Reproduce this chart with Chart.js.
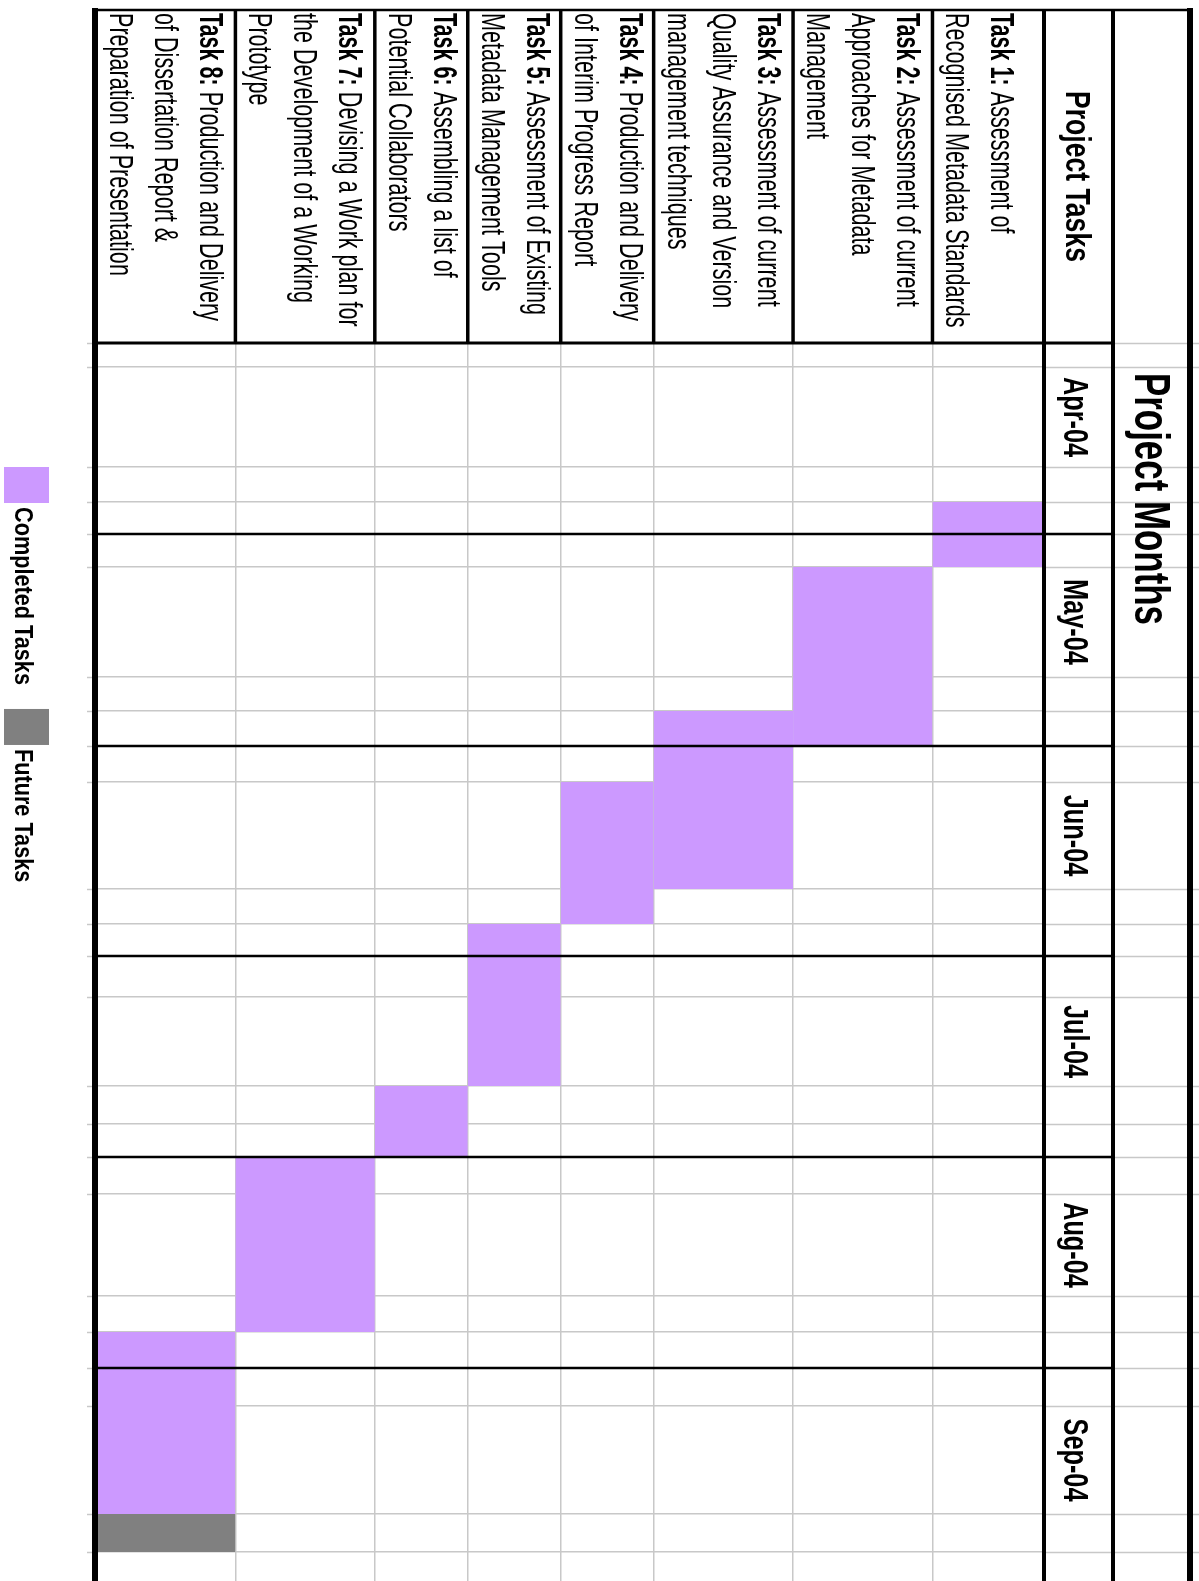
<!DOCTYPE html>
<html>
<head>
<meta charset="utf-8">
<script src="https://cdn.jsdelivr.net/npm/chart.js@4.4.1/dist/chart.umd.min.js"></script>
<style>
html,body{margin:0;padding:0;background:#ffffff;overflow:hidden}
canvas{display:block}
</style>
</head>
<body>
<canvas id="gantt" width="1199" height="1581"></canvas>
<script>
// ---------------- DATA ----------------
const taskTitles = ['Task 1:', 'Task 2:', 'Task 3:', 'Task 4:', 'Task 5:', 'Task 6:', 'Task 7:', 'Task 8:'];
const taskLines = [
  ['Assessment of', 'Recognised Metadata Standards'],
  ['Assessment of current', 'Approaches for Metadata', 'Management'],
  ['Assessment of current', 'Quality Assurance and Version', 'management techniques'],
  ['Production and Delivery', 'of Interim Progress Report'],
  ['Assessment of Existing', 'Metadata Management Tools'],
  ['Assembling a list of', 'Potential Collaborators'],
  ['Devising a Work plan for', 'the Development of a Working', 'Prototype'],
  ['Production and Delivery', 'of Dissertation Report &', 'Preparation of Presentation']
];
const monthLabels = ['Apr-04', 'May-04', 'Jun-04', 'Jul-04', 'Aug-04', 'Sep-04'];
// timeline tick values (four sub-periods per month, as in the source sheet)
const weekEdges = [0, 2.4, 12.4, 15.9, 19.1, 22.4, 33.4, 36.8, 40.3, 43.9, 54.6, 58.1,
                   61.3, 65.4, 74.3, 78.1, 81.4, 85.1, 95.3, 98.9, 102.5, 106.3, 117.1, 120.9];
const timelineEnd = 123.8;
const completedStart = [15.9, 22.4, 36.8, 43.9, 58.1, 74.3, 81.4, 98.9];
const completedEnd   = [22.4, 40.3, 54.6, 58.1, 74.3, 81.4, 98.9, 117.1];
const futureStart    = [null, null, null, null, null, null, null, 117.1];
const futureEnd      = [null, null, null, null, null, null, null, 120.9];
const seriesNames = ['Completed Tasks', 'Future Tasks'];
const headerTasks = 'Project Tasks';
const headerMonths = 'Project Months';

// ---------------- LAYOUT / STYLE ----------------
const COLUMN_UNITS = [12, 15, 15, 10, 10, 10, 15, 15]; // sheet column widths, Task 1 .. Task 8
const COLORS = ['#CC99FF', '#808080'];
const GRID = '#C8C8C8';
const FONT = '"Liberation Sans", Arial, sans-serif';

const colEdges = [0];
COLUMN_UNITS.forEach(w => colEdges.push(colEdges[colEdges.length - 1] + w));
const totalUnits = colEdges[colEdges.length - 1];

const datasets = [];
function addSeries(starts, ends, sIdx) {
  starts.forEach((s, i) => {
    if (s === null || ends[i] === null) return;
    datasets.push({
      label: seriesNames[sIdx],
      data: [{x: colEdges[i], y: s}, {x: colEdges[i + 1], y: s}],
      showLine: true,
      fill: {value: ends[i]},
      backgroundColor: COLORS[sIdx],
      borderColor: 'rgba(0,0,0,0)',
      borderWidth: 0,
      pointRadius: 0,
      tension: 0
    });
  });
}
addSeries(completedStart, completedEnd, 0);
addSeries(futureStart, futureEnd, 1);

function rotText(ctx, parts, x, y, perp, align) {
  ctx.save();
  ctx.translate(x, y);
  ctx.rotate(Math.PI / 2);
  ctx.scale(1, perp);
  ctx.textBaseline = 'alphabetic';
  ctx.textAlign = 'left';
  let total = 0;
  parts.forEach(p => { ctx.font = (p.bold ? 'bold ' : '') + p.size + 'px ' + FONT; total += ctx.measureText(p.t).width; });
  let off = align === 'center' ? -total / 2 : 0;
  parts.forEach(p => {
    ctx.font = (p.bold ? 'bold ' : '') + p.size + 'px ' + FONT;
    ctx.fillStyle = '#000';
    ctx.fillText(p.t, off, 0);
    off += ctx.measureText(p.t).width;
  });
  ctx.restore();
}

function line(ctx, x1, y1, x2, y2, w, c) {
  ctx.beginPath(); ctx.moveTo(x1, y1); ctx.lineTo(x2, y2);
  ctx.lineWidth = w; ctx.strokeStyle = c; ctx.stroke();
}

const tablePlugin = {
  id: 'tablePlugin',
  afterDatasetsDraw(chart) {
    const ctx = chart.ctx, xs = chart.scales.x, ys = chart.scales.y, a = chart.chartArea;
    const L = a.left, R = a.right, T = a.top, B = a.bottom;
    const headTop = 10, labRight = R + 69, pmRight = R + 146;
    ctx.save();
    // gray extensions of the timeline grid into the label columns and left stubs
    weekEdges.forEach(v => {
      const y = Math.round(ys.getPixelForValue(v)) + 0.5;
      line(ctx, R, y, 1199, y, 1.5, GRID);
      line(ctx, L - 9, y, L, y, 1.5, GRID);
    });
    // month separators
    for (let m = 1; m < monthLabels.length; m++) {
      const y = ys.getPixelForValue(weekEdges[m * 4]);
      line(ctx, L, y, labRight, y, 2.5, '#000');
    }
    // header bottom
    line(ctx, L, T, labRight, T, 3, '#000');
    // header column separators
    colEdges.slice(1, -1).forEach(v => {
      const x = xs.getPixelForValue(v);
      line(ctx, x, headTop, x, T, 3.5, '#000');
    });
    line(ctx, R, headTop, R, B, 4, '#000');
    line(ctx, labRight, headTop, labRight, B, 4, '#000');
    line(ctx, L - 3, headTop, pmRight, headTop, 2.5, '#000');
    ctx.fillStyle = '#000';
    ctx.fillRect(L - 4, headTop - 2, 6, B - headTop + 2);
    ctx.fillRect(pmRight - 3, headTop - 2, 6, B - headTop + 2);

    // task texts (bottom aligned in sheet => hug left edge after rotation)
    taskLines.forEach((lines, i) => {
      const xl = Math.min(xs.getPixelForValue(colEdges[i]), xs.getPixelForValue(colEdges[i + 1]));
      const n = lines.length;
      lines.forEach((t, k) => {
        const bx = xl + 14 + (n - 1 - k) * 45;
        const parts = k === 0 ? [{t: taskTitles[i], bold: true, size: 21.6}, {t: ' ' + t, bold: false, size: 21.6}]
                              : [{t: t, bold: false, size: 21.6}];
        rotText(ctx, parts, bx, headTop + 3, 1.5, 'left');
      });
    });
    // header 'Project Tasks'
    rotText(ctx, [{t: headerTasks, bold: true, size: 26.6}], R + 22, (headTop + T) / 2, 1.3, 'center');
    // month labels, centred in the second sub-period of each month
    monthLabels.forEach((lab, m) => {
      const yc = (ys.getPixelForValue(weekEdges[m * 4 + 1]) + ys.getPixelForValue(weekEdges[m * 4 + 2])) / 2;
      rotText(ctx, [{t: lab, bold: true, size: 25.3}], R + 20, yc, 1.35, 'center');
    });
    // 'Project Months'
    rotText(ctx, [{t: headerMonths, bold: true, size: 34.9}], labRight + 22, T + 30, 1.45, 'left');

    // legend (rotated)
    let ly = 467;
    seriesNames.forEach((name, s) => {
      ctx.fillStyle = COLORS[s];
      ctx.fillRect(4, ly, 45, 36);
      rotText(ctx, [{t: name, bold: true, size: 21.7}], 15, ly + 40, 1.2, 'left');
      ctx.font = 'bold 21.7px ' + FONT;
      ly += 40 + ctx.measureText(name).width + 24;
    });
    ctx.restore();
  }
};

new Chart(document.getElementById('gantt'), {
  type: 'scatter',
  data: {datasets},
  options: {
    responsive: false,
    animation: false,
    events: [],
    layout: {padding: {left: 96, right: 155, top: 343, bottom: 0}},
    plugins: {legend: {display: false}, tooltip: {enabled: false}},
    scales: {
      x: {
        type: 'linear', min: 0, max: totalUnits, reverse: true,
        afterBuildTicks: s => { s.ticks = colEdges.map(v => ({value: v})); },
        afterFit: s => { s.height = 0; },
        ticks: {display: false},
        border: {display: false},
        grid: {color: GRID, lineWidth: 1.5, drawTicks: false}
      },
      y: {
        type: 'linear', min: 0, max: timelineEnd, reverse: true,
        afterBuildTicks: s => { s.ticks = weekEdges.map(v => ({value: v})); },
        afterFit: s => { s.width = 0; },
        ticks: {display: false},
        border: {display: false},
        grid: {color: GRID, lineWidth: 1.5, drawTicks: false}
      }
    }
  },
  plugins: [tablePlugin]
});
</script>
</body>
</html>
